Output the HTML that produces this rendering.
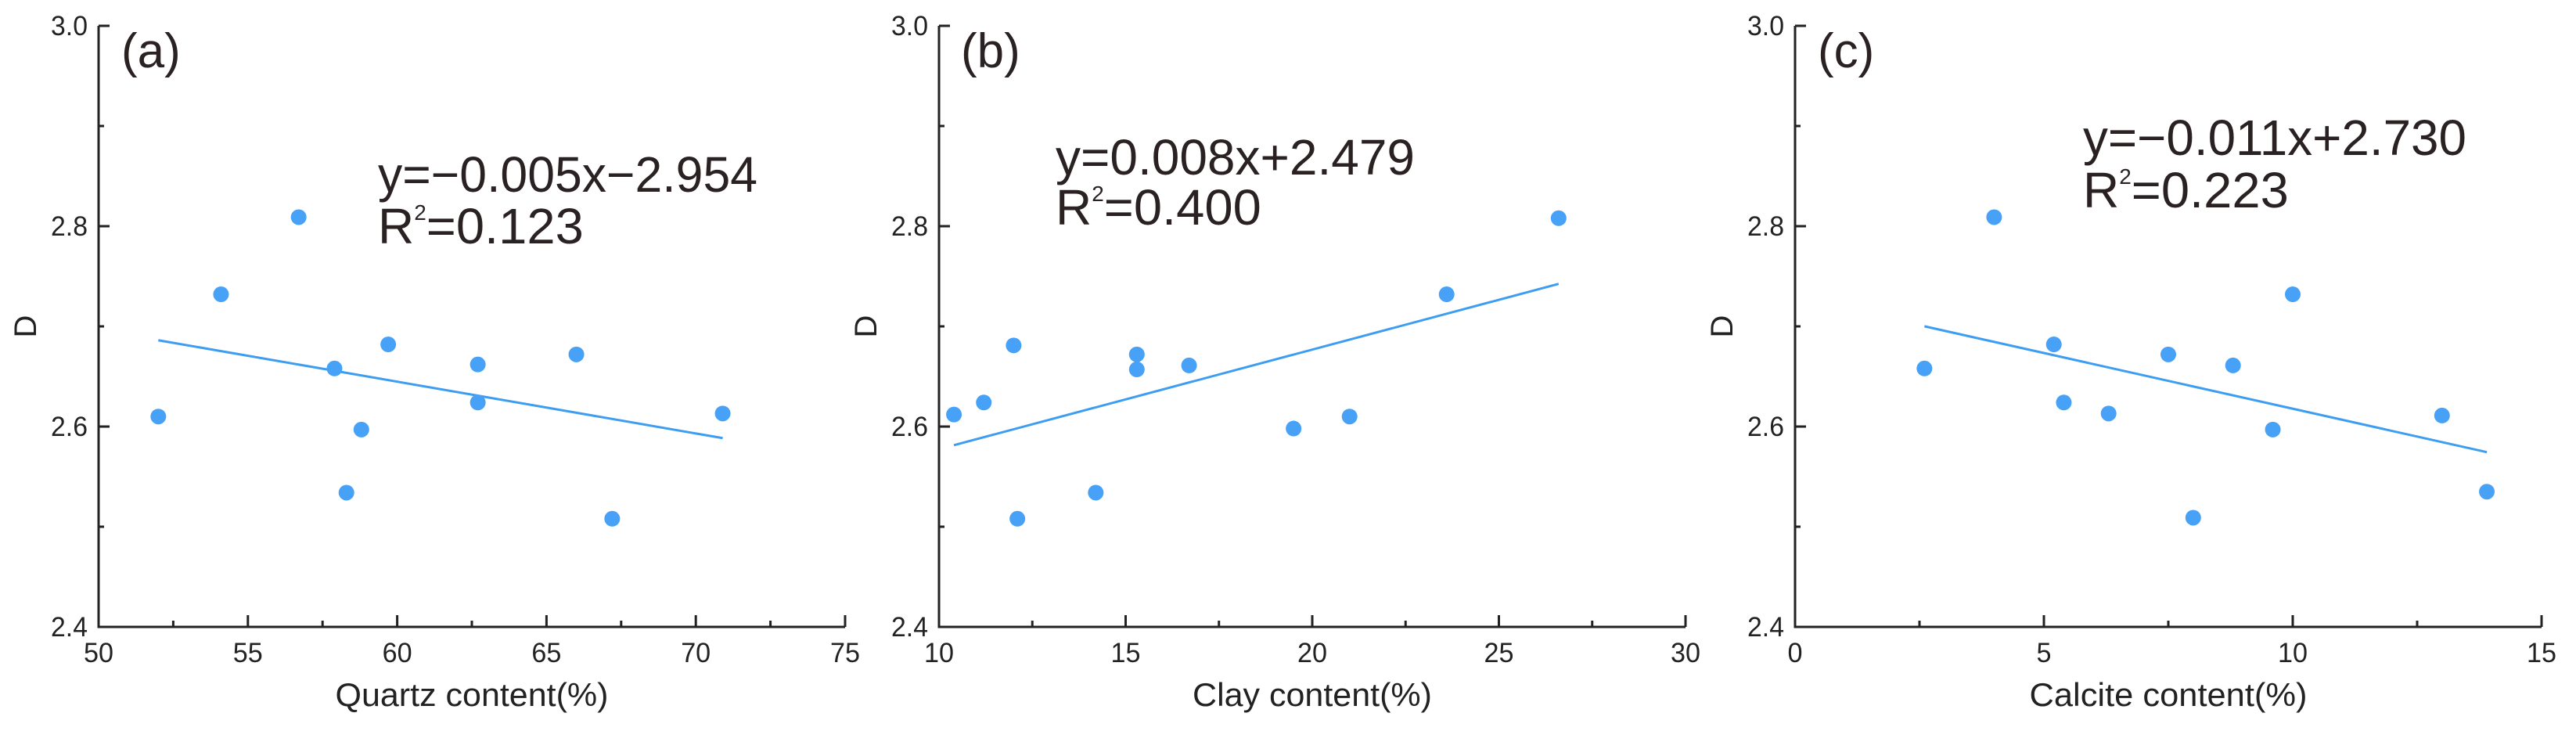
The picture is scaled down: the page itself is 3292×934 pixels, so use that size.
<!DOCTYPE html>
<html><head><meta charset="utf-8"><style>
html,body{margin:0;padding:0;background:#fff;}
svg{display:block;font-family:"Liberation Sans",Arial,sans-serif;}
</style></head><body>
<svg id="chart" width="3292" height="934" viewBox="0 0 3292 934" xmlns="http://www.w3.org/2000/svg"></svg>
<script>
// Panel (a) quartz
const quartzX = [52.0,54.1,56.7,57.9,59.7,58.8,58.3,62.7,62.7,66.0,67.2,70.9];
const quartzD = [2.610,2.732,2.809,2.658,2.682,2.597,2.534,2.662,2.624,2.672,2.508,2.613];
const quartzFit = [-0.00517, 2.955];
const quartzTicks = ["50","55","60","65","70","75"];
// Panel (b) clay
const clayX = [10.4,11.2,12.0,12.1,14.2,15.3,15.3,16.7,19.5,21.0,23.6,26.6];
const clayD = [2.612,2.624,2.681,2.508,2.534,2.672,2.657,2.661,2.598,2.610,2.732,2.808];
const clayFit = [0.00994, 2.478];
const clayTicks = ["10","15","20","25","30"];
// Panel (c) calcite
const calciteX = [2.6,4.0,5.2,5.4,6.3,7.5,8.0,8.8,9.6,10.0,13.0,13.9];
const calciteD = [2.658,2.809,2.682,2.624,2.613,2.672,2.509,2.661,2.597,2.732,2.611,2.535];
const calciteFit = [-0.01112, 2.729];
const calciteTicks = ["0","5","10","15"];
const yTicks = ["2.4","2.6","2.8","3.0"];

const NS="http://www.w3.org/2000/svg";
const svg=document.getElementById('chart');
function mk(tag,attrs,parent){const e=document.createElementNS(NS,tag);for(const k in attrs)e.setAttribute(k,attrs[k]);(parent||svg).appendChild(e);return e;}
function tl(s){let w=0;for(const ch of s)w+=(ch==='.'?9:19);return w;}

const panels=[
 {key:'a',left:126,xmin:50,xmax:75,xs:quartzX,ys:quartzD,fit:quartzFit,ticks:quartzTicks,minor:2.5,title:'Quartz content(%)',titleW:349,
  eq:'y=\u22120.005x\u22122.954',r2:'0.123',eqX:483,eqY:245,eqW:485,r2Y:311,r2W:259,lblX:155},
 {key:'b',left:1200,xmin:10,xmax:30,xs:clayX,ys:clayD,fit:clayFit,ticks:clayTicks,minor:2.5,title:'Clay content(%)',titleW:306,
  eq:'y=0.008x+2.479',r2:'0.400',eqX:1349,eqY:223,eqW:459,r2Y:287,r2W:259,lblX:1228},
 {key:'c',left:2294,xmin:0,xmax:15,xs:calciteX,ys:calciteD,fit:calciteFit,ticks:calciteTicks,minor:2.5,title:'Calcite content(%)',titleW:355,
  eq:'y=\u22120.011x+2.730',r2:'0.223',eqX:2662,eqY:198,eqW:490,r2Y:265,r2W:259,lblX:2323}
];
const W=954, TOP=33, BOT=801, YMIN=2.4, YMAX=3.0;

panels.forEach(p=>{
 const g=mk('g',{});
 
 
 const sx=v=>p.left+(v-p.xmin)/(p.xmax-p.xmin)*W;
 const sy=v=>BOT-(v-YMIN)/(YMAX-YMIN)*(BOT-TOP);
 const ax=mk('path',{d:`M${p.left},${TOP} V${BOT} H${p.left+W}`,stroke:'#222',fill:'none','stroke-width':3},g);
 
 
 for(let v=p.xmin;v<=p.xmax+1e-9;v+=p.minor){
  const major=Math.abs((v-p.xmin)/5-Math.round((v-p.xmin)/5))<1e-6;
  mk('line',{x1:sx(v),x2:sx(v),y1:BOT,y2:BOT-(major?15:8),stroke:'#222','stroke-width':3},g);
 }
 p.ticks.forEach(t=>{
  const tx=mk('text',{x:sx(+t)-tl(t)/2,y:846,'font-size':35,fill:'#222',textLength:tl(t),lengthAdjust:'spacingAndGlyphs'},g);
  tx.textContent=t;
  
  
 });
 for(let v=YMIN;v<=YMAX+1e-9;v+=0.1){
  const major=Math.round(v*10)%2===0;
  mk('line',{x1:p.left,x2:p.left+(major?14:7),y1:sy(v),y2:sy(v),stroke:'#222','stroke-width':3},g);
 }
 yTicks.forEach(t=>{
  const tx=mk('text',{x:p.left-14-tl(t),y:sy(+t)+12,'font-size':35,fill:'#222',textLength:tl(t),lengthAdjust:'spacingAndGlyphs'},g);
  tx.textContent=t;
  
  
 });
 const xt=mk('text',{x:p.left+W/2-p.titleW/2,y:902,'font-size':42,fill:'#222',textLength:p.titleW,lengthAdjust:'spacingAndGlyphs'},g);
 xt.textContent=p.title;
 
 
 const yt=mk('text',{x:0,y:0,'font-size':40,'text-anchor':'middle',fill:'#222',transform:`translate(${p.left-80},${417}) rotate(-90)`},g);
 yt.textContent='D';
 
 
 const pl=mk('text',{x:p.lblX,y:86,'font-size':62,fill:'#2a2222'},g);
 pl.textContent='('+p.key+')';
 
 
 const x0=Math.min(...p.xs), x1=Math.max(...p.xs);
 const fl=mk('line',{x1:sx(x0),y1:sy(p.fit[0]*x0+p.fit[1]),x2:sx(x1),y2:sy(p.fit[0]*x1+p.fit[1]),stroke:'#3d9df0','stroke-width':3},g);
 
 
 p.xs.forEach((xv,i)=>{
  const c=mk('circle',{cx:sx(xv),cy:sy(p.ys[i]),r:10,fill:'#47a2f7'},g);
  
  
 });
 const eq=mk('text',{x:p.eqX,y:p.eqY,'font-size':64,fill:'#2a2222',textLength:p.eqW,lengthAdjust:'spacingAndGlyphs'},g);
 eq.textContent=p.eq;
 
 
 const r2=mk('text',{x:p.eqX,y:p.r2Y,'font-size':64,fill:'#2a2222'},g);
 
 
 const t1=mk('tspan',{},r2); t1.textContent='R';
 const t2=mk('tspan',{'font-size':28,dy:-30},r2); t2.textContent='2';
 const t3=mk('tspan',{dy:30,textLength:p.r2W-58,lengthAdjust:'spacingAndGlyphs'},r2); t3.textContent='='+p.r2;
});
</script>
</body></html>
